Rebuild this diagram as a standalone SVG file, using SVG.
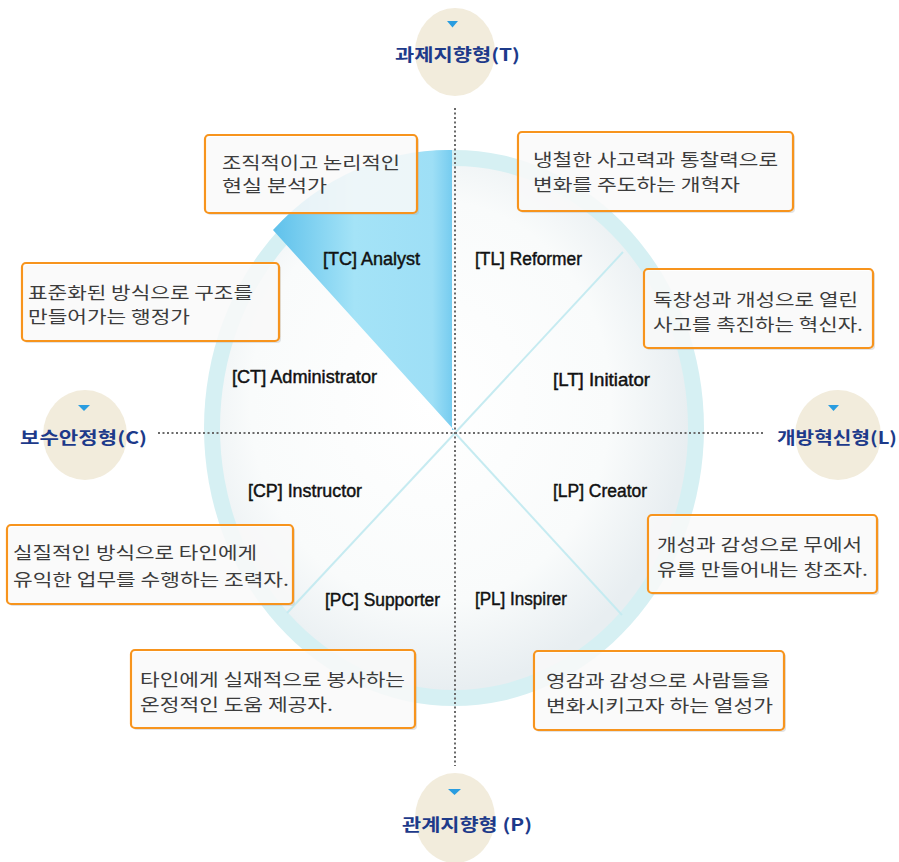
<svg xmlns="http://www.w3.org/2000/svg" width="899" height="862" viewBox="0 0 899 862">
<style>
.box{fill:#ffffff;fill-opacity:0.8;stroke:#f7941d;stroke-width:2.2}
.shadow{fill:#b0b0b0;opacity:0.35}
.kt{font-family:"Noto Sans CJK KR","Noto Sans",sans-serif;font-size:17px;fill:#3c3c3c}
.ql{font-family:"Liberation Sans Narrow","Liberation Sans",sans-serif;font-size:18px;fill:#111111;stroke:#111111;stroke-width:0.45}
.ax{font-family:"Noto Sans CJK KR","Noto Sans",sans-serif;font-size:17px;font-weight:bold;fill:#1d3a8a}
.axc{fill:#f2ecdc}
.tri{fill:#2a9de0}
.dot{stroke:#6a6a6a;stroke-width:2;stroke-dasharray:2 2.5;fill:none}
.diag{stroke:#c6ebf1;stroke-width:2;fill:none}
</style>
<defs>
<radialGradient id="inner" cx="0.45" cy="0.45" r="0.55">
<stop offset="0" stop-color="#ffffff"/>
<stop offset="0.7" stop-color="#f9fbfb"/>
<stop offset="1" stop-color="#e8eef1"/>
</radialGradient>
<linearGradient id="wedge" x1="0" y1="0" x2="1" y2="0">
<stop offset="0" stop-color="#5fc1eb"/>
<stop offset="0.45" stop-color="#a4e3f7"/>
<stop offset="0.88" stop-color="#9edff6"/>
<stop offset="1" stop-color="#72caef"/>
</linearGradient>
</defs>
<rect width="899" height="862" fill="#ffffff"/>

<g id="circle">
<ellipse cx="454" cy="428" rx="250" ry="278" fill="#d6f0f3"/>
<ellipse cx="454" cy="428" rx="234" ry="262" fill="url(#inner)"/>
<path d="M 454 430 L 273 230 A 250 278 0 0 1 452 150 L 452 430 Z" fill="url(#wedge)"/>
</g>

<g id="connectors">
<line class="diag" x1="455" y1="433" x2="623" y2="252"/>
<line class="diag" x1="455" y1="433" x2="622" y2="615"/>
<line class="diag" x1="455" y1="433" x2="287" y2="613"/>
<line class="dot" x1="158" y1="433" x2="764" y2="433"/>
<line class="dot" x1="455" y1="108" x2="455" y2="766"/>
</g>

<g id="axis-T">
<ellipse class="axc" cx="455" cy="52" rx="40" ry="44"/>
<polygon class="tri" points="447,21 458,21 452.5,27.5"/>
<text class="ax" x="395" y="61" textLength="125" lengthAdjust="spacingAndGlyphs">과제지향형(T)</text>
</g>
<g id="axis-C">
<ellipse class="axc" cx="85" cy="435" rx="42" ry="45"/>
<polygon class="tri" points="78,405 90,405 84,411"/>
<text class="ax" x="20" y="444" textLength="127" lengthAdjust="spacingAndGlyphs">보수안정형(C)</text>
</g>
<g id="axis-L">
<ellipse class="axc" cx="838" cy="435" rx="43" ry="45"/>
<polygon class="tri" points="828,405 839,405 833.5,411"/>
<text class="ax" x="777" y="444" textLength="120" lengthAdjust="spacingAndGlyphs">개방혁신형(L)</text>
</g>
<g id="axis-P">
<ellipse class="axc" cx="455" cy="818" rx="40" ry="45"/>
<polygon class="tri" points="448,789 461,789 454.5,795"/>
<text class="ax" x="402" y="831" textLength="130" lengthAdjust="spacingAndGlyphs">관계지향형 (P)</text>
</g>

<g id="label-TC"><text class="ql" x="323" y="265" textLength="97" lengthAdjust="spacingAndGlyphs">[TC] Analyst</text></g>
<g id="label-TL"><text class="ql" x="475" y="265" textLength="107" lengthAdjust="spacingAndGlyphs">[TL] Reformer</text></g>
<g id="label-CT"><text class="ql" x="232" y="383" textLength="145" lengthAdjust="spacingAndGlyphs">[CT] Administrator</text></g>
<g id="label-LT"><text class="ql" x="553" y="386" textLength="97" lengthAdjust="spacingAndGlyphs">[LT] Initiator</text></g>
<g id="label-CP"><text class="ql" x="248" y="497" textLength="114" lengthAdjust="spacingAndGlyphs">[CP] Instructor</text></g>
<g id="label-LP"><text class="ql" x="553" y="497" textLength="94" lengthAdjust="spacingAndGlyphs">[LP] Creator</text></g>
<g id="label-PC"><text class="ql" x="325" y="606" textLength="115" lengthAdjust="spacingAndGlyphs">[PC] Supporter</text></g>
<g id="label-PL"><text class="ql" x="475" y="605" textLength="92" lengthAdjust="spacingAndGlyphs">[PL] Inspirer</text></g>

<g id="box-TC">
<rect class="shadow" x="207" y="137" width="212" height="78" rx="4"/>
<rect class="box" x="205" y="135" width="212" height="78" rx="4"/>
<text class="kt" x="222" y="169" textLength="178" lengthAdjust="spacingAndGlyphs">조직적이고 논리적인</text>
<text class="kt" x="222" y="192" textLength="105" lengthAdjust="spacingAndGlyphs">현실 분석가</text>
</g>
<g id="box-TL">
<rect class="shadow" x="520" y="134" width="275" height="79" rx="4"/>
<rect class="box" x="518" y="132" width="275" height="79" rx="4"/>
<text class="kt" x="533" y="166" textLength="245" lengthAdjust="spacingAndGlyphs">냉철한 사고력과 통찰력으로</text>
<text class="kt" x="533" y="191" textLength="207" lengthAdjust="spacingAndGlyphs">변화를 주도하는 개혁자</text>
</g>
<g id="box-LT">
<rect class="shadow" x="646" y="271" width="229" height="79" rx="4"/>
<rect class="box" x="644" y="269" width="229" height="79" rx="4"/>
<text class="kt" x="653" y="306" textLength="205" lengthAdjust="spacingAndGlyphs">독창성과 개성으로 열린</text>
<text class="kt" x="653" y="331" textLength="210" lengthAdjust="spacingAndGlyphs">사고를 촉진하는 혁신자.</text>
</g>
<g id="box-CT">
<rect class="shadow" x="24" y="265" width="257" height="78" rx="4"/>
<rect class="box" x="22" y="263" width="257" height="78" rx="4"/>
<text class="kt" x="28" y="299" textLength="225" lengthAdjust="spacingAndGlyphs">표준화된 방식으로 구조를</text>
<text class="kt" x="28" y="323" textLength="162" lengthAdjust="spacingAndGlyphs">만들어가는 행정가</text>
</g>
<g id="box-CP">
<rect class="shadow" x="9" y="527" width="286" height="79" rx="4"/>
<rect class="box" x="7" y="525" width="286" height="79" rx="4"/>
<text class="kt" x="13" y="559" textLength="244" lengthAdjust="spacingAndGlyphs">실질적인 방식으로 타인에게</text>
<text class="kt" x="13" y="586" textLength="276" lengthAdjust="spacingAndGlyphs">유익한 업무를 수행하는 조력자.</text>
</g>
<g id="box-PC">
<rect class="shadow" x="133" y="652" width="284" height="78" rx="4"/>
<rect class="box" x="131" y="650" width="284" height="78" rx="4"/>
<text class="kt" x="140" y="686" textLength="265" lengthAdjust="spacingAndGlyphs">타인에게 실재적으로 봉사하는</text>
<text class="kt" x="140" y="711" textLength="193" lengthAdjust="spacingAndGlyphs">온정적인 도움 제공자.</text>
</g>
<g id="box-LP">
<rect class="shadow" x="650" y="517" width="229" height="78" rx="4"/>
<rect class="box" x="648" y="515" width="229" height="78" rx="4"/>
<text class="kt" x="657" y="551" textLength="205" lengthAdjust="spacingAndGlyphs">개성과 감성으로 무에서</text>
<text class="kt" x="657" y="576" textLength="211" lengthAdjust="spacingAndGlyphs">유를 만들어내는 창조자.</text>
</g>
<g id="box-PL">
<rect class="shadow" x="536" y="653" width="250" height="79" rx="4"/>
<rect class="box" x="534" y="651" width="250" height="79" rx="4"/>
<text class="kt" x="546" y="687" textLength="224" lengthAdjust="spacingAndGlyphs">영감과 감성으로 사람들을</text>
<text class="kt" x="546" y="712" textLength="227" lengthAdjust="spacingAndGlyphs">변화시키고자 하는 열성가</text>
</g>
</svg>
